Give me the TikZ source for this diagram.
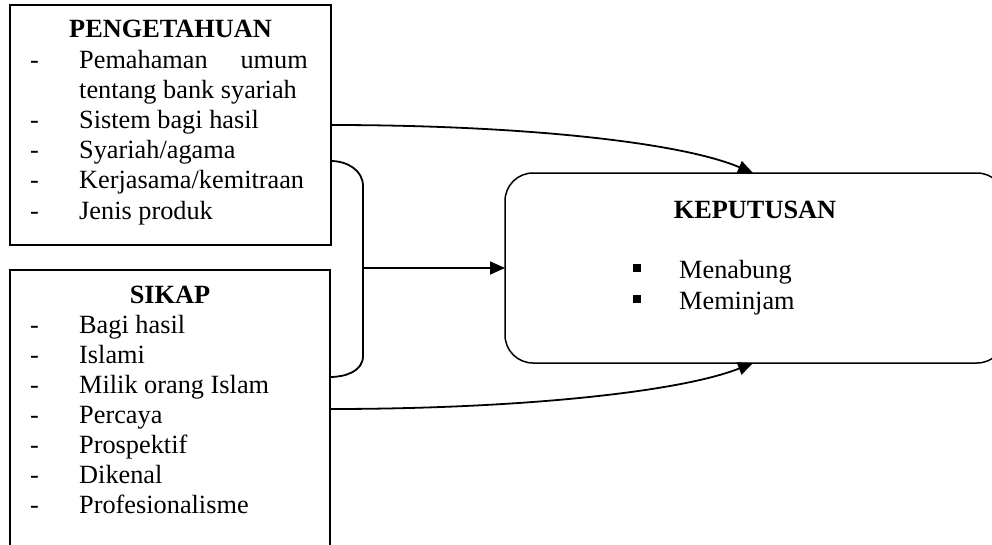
\documentclass[tikz,border=0pt]{standalone}
\usepackage{fontspec}
\setmainfont{Liberation Serif}
\usetikzlibrary{arrows.meta}
\begin{document}
\begin{tikzpicture}[x=1pt,y=-1pt,
  box/.style={draw,line width=1.8pt,inner sep=0pt,outer sep=0pt,anchor=north west},
  rbox/.style={draw,line width=1.5pt,inner sep=0pt,outer sep=0pt,anchor=north west,rounded corners=28pt},
  txt/.style={inner sep=0pt,anchor=base west,font=\fontsize{26.3}{30}\selectfont},
  txtr/.style={inner sep=0pt,anchor=base east,font=\fontsize{26.3}{30}\selectfont},
  head/.style={inner sep=0pt,anchor=base,font=\fontsize{26.3}{30}\selectfont\bfseries},
  bullet/.style={fill,inner sep=0pt,minimum size=8pt},
  conn/.style={line width=1.8pt},
  arr/.style={conn,-{Triangle[length=15pt,width=13pt]}}
]
\useasboundingbox (0,0) rectangle (992,544);
\fill[white] (0,0) rectangle (992,544);
\clip (0,0) rectangle (992,544);

% boxes
\node[box,minimum width=321pt,minimum height=240pt] (pk) at (10,5) {};
\node[box,minimum width=320pt,minimum height=300pt] (sk) at (10,270) {};
\node[rbox,minimum width=500pt,minimum height=190pt] (kp) at (505,173) {};

% PENGETAHUAN
\node[head] (h1) at (170.5,37) {PENGETAHUAN};
\node[txt] (d1) at (30,68) {-};
\node[txt] (p1) at (79,68) {Pemahaman};
\node[txtr] (p1b) at (308,68) {umum};
\node[txt] (p1c) at (79,98.2) {tentang bank syariah};
\node[txt] (d2) at (30,128.4) {-};
\node[txt] (p2) at (79,128.4) {Sistem bagi hasil};
\node[txt] (d3) at (30,158.6) {-};
\node[txt] (p3) at (79,158.6) {Syariah/agama};
\node[txt] (d4) at (30,188.8) {-};
\node[txt] (p4) at (79,188.8) {Kerjasama/kemitraan};
\node[txt] (d5) at (30,219) {-};
\node[txt] (p5) at (79,219) {Jenis produk};

% SIKAP
\node[head] (h2) at (170,303) {SIKAP};
\node[txt] (e1) at (30,333) {-};
\node[txt] (s1t) at (79,333) {Bagi hasil};
\node[txt] (e2) at (30,363) {-};
\node[txt] (s2t) at (79,363) {Islami};
\node[txt] (e3) at (30,393) {-};
\node[txt] (s3t) at (79,393) {Milik orang Islam};
\node[txt] (e4) at (30,423) {-};
\node[txt] (s4t) at (79,423) {Percaya};
\node[txt] (e5) at (30,453) {-};
\node[txt] (s5t) at (79,453) {Prospektif};
\node[txt] (e6) at (30,483) {-};
\node[txt] (s6t) at (79,483) {Dikenal};
\node[txt] (e7) at (30,513) {-};
\node[txt] (s7t) at (79,513) {Profesionalisme};

% KEPUTUSAN
\node[head] (h3) at (755,218) {KEPUTUSAN};
\node[bullet] (b1) at (637,268) {};
\node[txt] (k1) at (679,278) {Menabung};
\node[bullet] (b2) at (637,299) {};
\node[txt] (k2) at (679,309) {Meminjam};

% connector points
\coordinate (a1) at (331,125);
\coordinate (t1) at (753,173);
\coordinate (a2) at (330,409);
\coordinate (t2) at (753,363);
\coordinate (bt) at (331,161);
\coordinate (bb) at (330,377);
\coordinate (bm) at (363,268);

\draw[arr] (a1) .. controls (520,125) and (680,142) .. (t1);
\draw[arr] (a2) .. controls (520,409) and (680,392) .. (t2);
\draw[conn] (bt) to[out=0,in=90] (363,186) -- (363,356) to[out=-90,in=0] (bb);
\draw[arr] (bm) -- (kp.west);
\end{tikzpicture}
\end{document}
